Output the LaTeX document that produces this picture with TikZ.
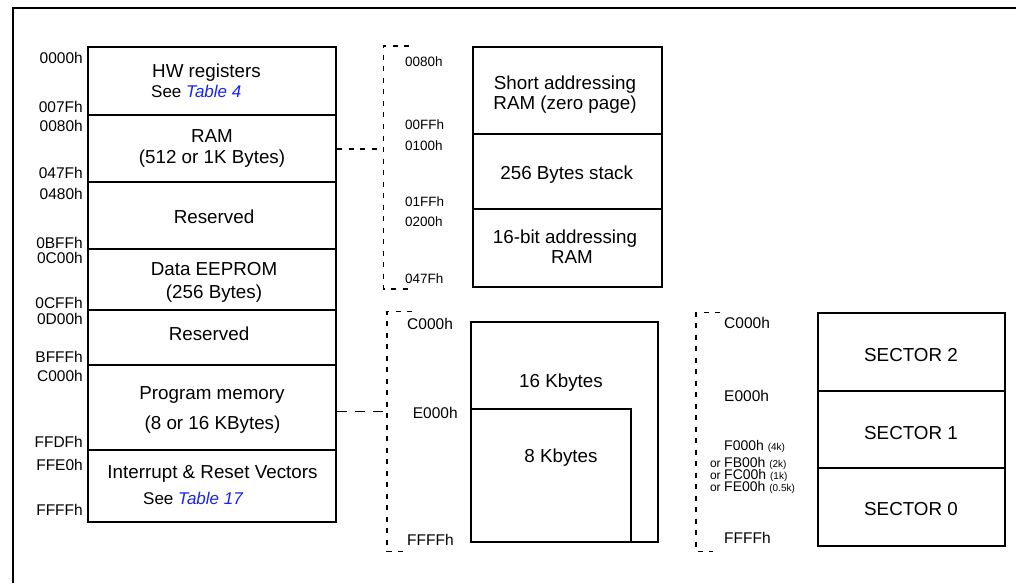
\documentclass[tikz,border=0pt]{standalone}
\usepackage{fontspec}
\setmainfont{Liberation Sans}
\definecolor{linkblue}{RGB}{25,35,240}
\newcommand\fmain{\fontsize{18.8}{21}\selectfont}
\newcommand\fsee{\fontsize{17}{19}\selectfont}
\newcommand\flab{\fontsize{15.5}{17}\selectfont}
\newcommand\fsmall{\fontsize{13.5}{15}\selectfont}
\newcommand\fsec{\fontsize{14}{14}\selectfont}
\newcommand\for{\fontsize{12}{12}\selectfont}
\newcommand\fpar{\fontsize{10}{10}\selectfont}
\begin{document}
\begin{tikzpicture}[x=1pt,y=-1pt,
  mem/.style={draw,line width=2pt,inner sep=0pt,rectangle},
  txt/.style={inner sep=0pt,anchor=base,font=\fmain},
  seetxt/.style={inner sep=0pt,anchor=base west,font=\fsee},
  laddr/.style={inner sep=0pt,anchor=base east,font=\flab},
  raddr/.style={inner sep=0pt,anchor=base west,font=\flab},
  saddr/.style={inner sep=0pt,anchor=base west,font=\fsmall},
  secaddr/.style={inner sep=0pt,anchor=base west,font=\fsec},
  fine/.style={line width=1.5pt,dash pattern=on 5pt off 6.5pt},
  coarse/.style={line width=1.5pt,dash pattern=on 10pt off 8pt},
  frame/.style={line width=2pt}]
\useasboundingbox (0,0) rectangle (1016,583);
% frame
\coordinate (ftl) at (12.5,8);
\coordinate (fbl) at (12.5,583);
\coordinate (ftr) at (1016,8);
\draw[frame] (fbl) -- (ftl) -- (ftr);

% left column
\node[mem,minimum width=248pt,minimum height=68pt] (hw)   at (212,81) {};
\node[mem,minimum width=248pt,minimum height=67pt] (ram)  at (212,148.5) {};
\node[mem,minimum width=248pt,minimum height=67pt] (res1) at (212,215.5) {};
\node[mem,minimum width=248pt,minimum height=61pt] (eep)  at (212,279.5) {};
\node[mem,minimum width=248pt,minimum height=55pt] (res2) at (212,337.5) {};
\node[mem,minimum width=248pt,minimum height=85pt] (prog) at (212,407.5) {};
\node[mem,minimum width=248pt,minimum height=72pt] (vec)  at (212,486) {};

\node[txt] (t1) at (206.5,77.8) {HW registers};
\node[seetxt] (t2) at (151,98) {See \textcolor{linkblue}{\itshape Table 4}};
\node[txt] (t3) at (212,142.8) {RAM};
\node[txt] (t4) at (212,163.8) {(512 or 1K Bytes)};
\node[txt] (t5) at (214,223.8) {Reserved};
\node[txt] (t6) at (214,275.8) {Data EEPROM};
\node[txt] (t7) at (214,298.8) {(256 Bytes)};
\node[txt] (t8) at (209,340.8) {Reserved};
\node[txt] (t9) at (212,399.8) {Program memory};
\node[txt] (t10) at (212.5,429.8) {(8 or 16 KBytes)};
\node[txt] (t11) at (212.5,478.8) {Interrupt \& Reset Vectors};
\node[seetxt] (t12) at (143,504) {See \textcolor{linkblue}{\itshape Table 17}};

\node[laddr] (a1) at (83,63.5) {0000h};
\node[laddr] (a2) at (83,112.5) {007Fh};
\node[laddr] (a3) at (83,131.5) {0080h};
\node[laddr] (a4) at (83,178.5) {047Fh};
\node[laddr] (a5) at (83,199.5) {0480h};
\node[laddr] (a6) at (83,248.5) {0BFFh};
\node[laddr] (a7) at (83,263.5) {0C00h};
\node[laddr] (a8) at (83,308.5) {0CFFh};
\node[laddr] (a9) at (83,324.5) {0D00h};
\node[laddr] (a10) at (83,362.5) {BFFFh};
\node[laddr] (a11) at (83,381.5) {C000h};
\node[laddr] (a12) at (83,447.5) {FFDFh};
\node[laddr] (a13) at (83,470.5) {FFE0h};
\node[laddr] (a14) at (83,515.5) {FFFFh};

% RAM detail
\coordinate (ba1) at (409,46);
\coordinate (ba2) at (383.5,46);
\coordinate (ba3) at (383.5,289);
\coordinate (ba4) at (409,289);
\coordinate (bam) at (383.5,149);
\draw[fine] (ba1) -- (ba2) -- (ba3) -- (ba4);
\draw[fine] (ram.east |- bam) -- (bam);

\node[mem,minimum width=189pt,minimum height=87.3pt] (zp)  at (567.2,90.35) {};
\node[mem,minimum width=189pt,minimum height=75.3pt] (stk) at (567.2,171.65) {};
\node[mem,minimum width=189pt,minimum height=77.4pt] (b16) at (567.2,248) {};
\node[txt] (u1) at (565,89.8) {Short addressing};
\node[txt] (u2) at (565,109.8) {RAM (zero page)};
\node[txt] (u3) at (566.7,179.5) {256 Bytes stack};
\node[txt] (u4) at (565,243.5) {16-bit addressing};
\node[txt] (u5) at (572,263.8) {RAM};
\node[saddr] (s1) at (405,66.5) {0080h};
\node[saddr] (s2) at (405,129.8) {00FFh};
\node[saddr] (s3) at (405,150.8) {0100h};
\node[saddr] (s4) at (405,206.5) {01FFh};
\node[saddr] (s5) at (405,226.5) {0200h};
\node[saddr] (s6) at (405,283) {047Fh};

% program memory detail
\coordinate (bp1) at (412,311.7);
\coordinate (bp2) at (387,311.7);
\coordinate (bp3) at (387,551.7);
\coordinate (bp4) at (403,551.7);
\coordinate (bpm) at (387,411.7);
\draw[fine] (bp1) -- (bp2) -- (bp3) -- (bp4);
\draw[coarse] (prog.east |- bpm) -- (bpm);

\node[mem,minimum width=187.3pt,minimum height=220pt] (k16) at (564.65,432.3) {};
\node[mem,minimum width=160pt,minimum height=133pt] (k8) at (551,475.8) {};
\node[txt] (v1) at (561,387.5) {16 Kbytes};
\node[txt] (v2) at (561,462.5) {8 Kbytes};
\node[raddr] (p1) at (407,329.5) {C000h};
\node[raddr] (p2) at (412.7,418.8) {E000h};
\node[raddr] (p3) at (407,545.5) {FFFFh};

% sectors
\coordinate (bs1) at (720,312.7);
\coordinate (bs2) at (696,312.7);
\coordinate (bs3) at (696,551.7);
\coordinate (bs4) at (713,551.7);
\draw[fine] (bs1) -- (bs2) -- (bs3) -- (bs4);

\node[mem,minimum width=187.3pt,minimum height=78pt] (sec2) at (911.35,351.7) {};
\node[mem,minimum width=187.3pt,minimum height=77.6pt] (sec1) at (911.35,429.5) {};
\node[mem,minimum width=187.3pt,minimum height=77.4pt] (sec0) at (911.35,507) {};
\node[txt] (w1) at (911,361.8) {SECTOR 2};
\node[txt] (w2) at (911,439.5) {SECTOR 1};
\node[txt] (w3) at (911,515.8) {SECTOR 0};
\node[raddr] (r1) at (724,328.8) {C000h};
\node[raddr] (r2) at (724,401.5) {E000h};
\node[secaddr] (r3) at (724,450.5) {F000h {\fpar (4k)}};
\node[secaddr] (r4) at (724,467) {\makebox[0pt][r]{\for or\hspace{3.5pt}}FB00h {\fpar (2k)}};
\node[secaddr] (r5) at (724,479) {\makebox[0pt][r]{\for or\hspace{3.5pt}}FC00h {\fpar (1k)}};
\node[secaddr] (r6) at (724,491) {\makebox[0pt][r]{\for or\hspace{3.5pt}}FE00h {\fpar (0.5k)}};
\node[raddr] (r7) at (724,543.8) {FFFFh};
\end{tikzpicture}
\end{document}
